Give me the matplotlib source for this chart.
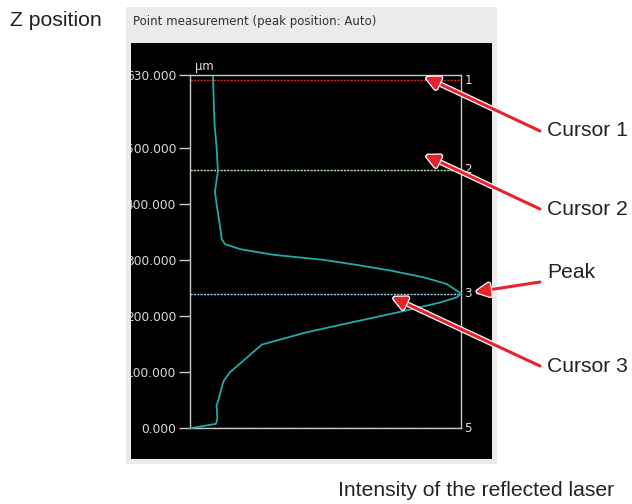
import matplotlib
matplotlib.use("Agg")
import matplotlib.pyplot as plt
from matplotlib.patches import Rectangle
from matplotlib.transforms import Bbox, TransformedBbox
import matplotlib.patheffects as pe
import matplotlib.transforms as mtransforms

# ---- data ----
z_um = [0, 8, 17, 41, 50, 73, 85, 100, 149, 171, 210, 224, 233, 240, 257, 269,
        281, 291, 300, 309, 319, 328, 337, 352, 400, 421, 458, 501, 545, 626]
intensity = [0.0, 0.096, 0.101, 0.098, 0.105, 0.117, 0.125, 0.148, 0.265, 0.43,
             0.80, 0.923, 0.984, 1.0, 0.947, 0.861, 0.738, 0.615, 0.492, 0.307,
             0.185, 0.129, 0.117, 0.113, 0.098, 0.092, 0.103, 0.098, 0.09, 0.085]
ytick_vals = [0, 100, 200, 300, 400, 500, 630]
ytick_labels = ["0.000", "100.000", "200.000", "300.000", "400.000", "500.000", "630.000"]
cursor_z = [620, 460, 240, 0]
cursor_names = ["1", "2", "3", "5"]
cursor_colors = ["#d42020", "#b8e0a8", "#a0c8e8", "#c8c030"]
callout_texts = ["Cursor 1", "Cursor 2", "Peak", "Cursor 3"]

W, H = 632, 504
fig = plt.figure(figsize=(W / 100, H / 100), dpi=100)
fig.patch.set_facecolor("white")

def fx(px):
    return px / W

def fy(py):
    return 1 - py / H

# panels
fig.patches.append(Rectangle((fx(126), fy(464)), fx(497) - fx(126), fy(7) - fy(464),
                             transform=fig.transFigure, facecolor="#ebebeb",
                             edgecolor="none", zorder=-2))
fig.patches.append(Rectangle((fx(130.5), fy(458.5)), fx(492) - fx(130.5), fy(43) - fy(458.5),
                             transform=fig.transFigure, facecolor="#000000",
                             edgecolor="none", zorder=-1))
fig.text(fx(133), fy(22), "Point measurement (peak position: Auto)", fontsize=8.5,
         color="#303030", va="center", ha="left", family="DejaVu Sans")

# axes
left, right, top, bottom = 190, 461, 74.5, 428.3
ax = fig.add_axes([fx(left), fy(bottom), fx(right) - fx(left), fy(top) - fy(bottom)])
ax.set_zorder(1)
ax.set_facecolor("black")
ax.set_xlim(0, 1)
ax.set_ylim(0, 630)
for s in ax.spines.values():
    s.set_color("#c8c8c8")
    s.set_linewidth(1.0)
ax.set_xticks([])
ax.set_yticks(ytick_vals)
ax.set_yticklabels(ytick_labels)
ax.tick_params(axis="y", colors="#c8c8c8", labelcolor="#d8d8d8", length=8,
               width=1.0, pad=2.0, labelsize=8.8, direction="out")

# clip tick labels to the black panel like the screenshot
clip = TransformedBbox(Bbox.from_extents(fx(130.5), fy(458.5), fx(492), fy(43)),
                       fig.transFigure)
for lab in ax.get_yticklabels():
    lab.set_clip_on(True)
    lab.set_clip_box(clip)

# cursors
trans = mtransforms.blended_transform_factory(ax.transAxes, ax.transData)
for zc, name, col in zip(cursor_z, cursor_names, cursor_colors):
    ax.axhline(zc, color=col, lw=1.0, dashes=(1.6, 0.8), zorder=2)
    ax.text(1.013, zc, name, transform=trans, color="#e0e0e0", fontsize=8.6,
            va="center", ha="left", clip_on=False)

ax.plot(intensity, z_um, color="#22aaaa", lw=1.3, zorder=3, clip_on=False)

ax.text(0.02, 1.005, "µm", transform=ax.transAxes, color="#e0e0e0",
        fontsize=8.4, va="bottom", ha="left")

# outer texts
fig.text(fx(10), fy(21), "Z position", fontsize=15.3, color="#222222",
         va="center", ha="left", family="Liberation Sans")
fig.text(fx(338), fy(491), "Intensity of the reflected laser", fontsize=15.2,
         color="#222222", va="center", ha="left", family="Liberation Sans")

# callouts with arrows
tails = [(540, 131), (540, 209), (540, 282), (540, 366)]
tips = [(425, 77), (425, 155), (475, 292), (392, 297)]
text_y = [131, 209, 273, 366]
for txt, (tx, ty), (hx, hy), yy in zip(callout_texts, tails, tips, text_y):
    fig.text(fx(547), fy(yy), txt, fontsize=15.2, color="#222222",
             va="center", ha="left", family="Liberation Sans")
    arr = plt.annotate(
        "", xy=(fx(hx), fy(hy)), xytext=(fx(tx), fy(ty)),
        xycoords="figure fraction", textcoords="figure fraction",
        arrowprops=dict(arrowstyle="-|>,head_length=0.8,head_width=0.4",
                        color="#e8222a", lw=2.2, shrinkA=0, shrinkB=0,
                        path_effects=[pe.Stroke(linewidth=4.0, foreground="white"), pe.Normal()]))
    arr.set_zorder(5)

fig.savefig("out.png", dpi=100, facecolor="white")
